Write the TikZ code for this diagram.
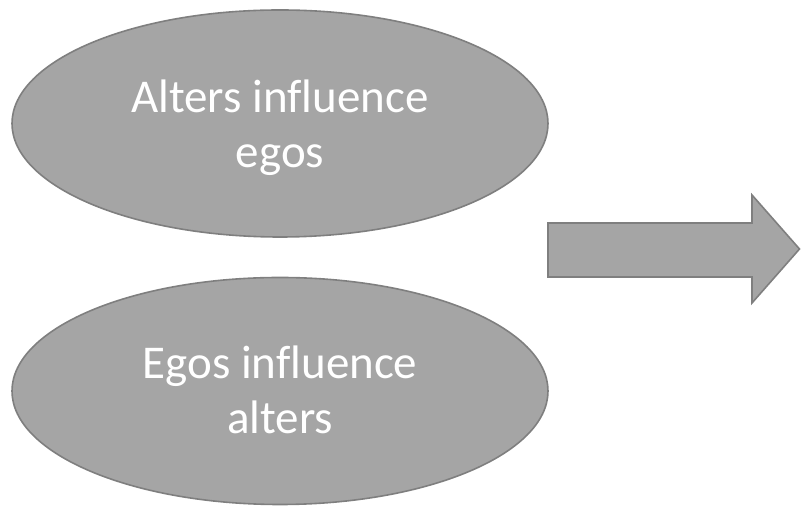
\documentclass[tikz,border=0pt]{standalone}
\usepackage{fontspec}
\setmainfont{Carlito}[Ligatures=NoCommon]
\usetikzlibrary{shapes.geometric}
\definecolor{shapefill}{HTML}{A5A5A5}
\definecolor{shapeline}{HTML}{7F7F7F}
\tikzset{
  oval/.style={ellipse, draw=shapeline, fill=shapefill, line width=1.6pt,
    minimum width=536pt, minimum height=227pt, inner sep=0pt},
  ovaltext/.style={text=white, align=center, inner sep=0pt,
    font=\fontsize{47}{55}\selectfont},
  blockarrow/.style={draw=shapeline, fill=shapefill, line width=1.6pt, line join=miter}
}
\begin{document}
\begin{tikzpicture}[x=1pt,y=1pt]
\useasboundingbox (0,0) rectangle (801,508);
\node[oval] (e1) at (280,384.5) {};
\node[ovaltext, yshift=-4pt] (t1) at (e1.center) {Alters influence\\egos};
\node[oval] (e2) at (280,117) {};
\node[ovaltext, yshift=1pt] (t2) at (e2.center) {Egos influence\\alters};
\draw[blockarrow] (548,285) -- (752,285) -- (752,313) -- (799.5,259) -- (752,205) -- (752,231) -- (548,231) -- cycle;
\end{tikzpicture}
\end{document}
